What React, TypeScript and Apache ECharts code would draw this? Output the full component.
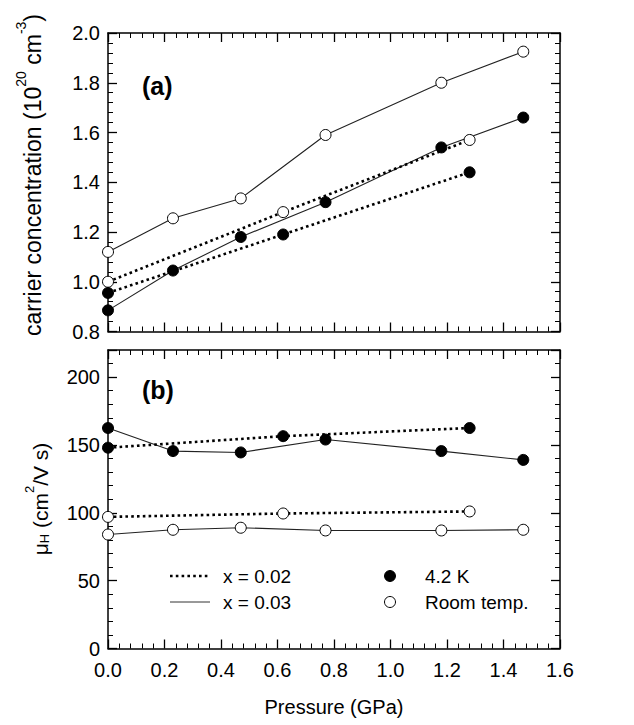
import React, { useEffect, useRef } from "react";
import * as echarts from "echarts";

// ---- data ----
const pressure03 = [0, 0.23, 0.47, 0.77, 1.18, 1.47];
const pressure02 = [0, 0.62, 1.28];

const carrierRT03 = [1.12, 1.255, 1.335, 1.59, 1.8, 1.925];
const carrier4K03 = [0.885, 1.045, 1.18, 1.32, 1.54, 1.66];
const carrierRT02 = [1.0, 1.28, 1.57];
const carrier4K02 = [0.955, 1.19, 1.44];

const mobility4K03 = [162.5, 145.5, 144.5, 154, 145.5, 139];
const mobilityRT03 = [84, 87.5, 89, 87, 87, 87.5];
const mobility4K02 = [148, 156.5, 162.5];
const mobilityRT02 = [97, 99.5, 101];

const legendLabels = ["x = 0.02", "x = 0.03", "4.2 K", "Room temp."];
const panelLabels = ["(a)", "(b)"];
const axisTitles = [
  "{a|carrier concentration (10}{sup|20}{a| cm}{sup|-3}{a|)}",
  "{a|μ}{sub|H}{a| (cm}{sup|2}{a|/V s)}",
  "Pressure (GPa)",
];

const FONT = "Liberation Sans, Arial, sans-serif";

function pairs(xs: number[], ys: number[]) {
  return xs.map((x, i) => [x, ys[i]]);
}

const fmt1 = (v: any) => {
  const n = Number(v);
  return isFinite(n) ? n.toFixed(1) : String(v);
};
const fmtInt50 = (v: any) => {
  const n = Number(v);
  return isFinite(n) && n % 50 === 0 ? String(n) : "";
};

export default function App() {
  const ref = useRef<HTMLDivElement>(null);

  useEffect(() => {
    document.body.style.margin = "0";
    if (!ref.current) return;
    const chart = echarts.init(ref.current, null, { renderer: "svg" });

    const frameLine = () => ({ show: true, onZero: false, lineStyle: { color: "#000", width: 1.5 } });
    const majorTick = () => ({ show: true, inside: true, length: 9, lineStyle: { color: "#000", width: 1.3 } });
    const minorTick = () => ({ show: true, splitNumber: 5, length: 5, lineStyle: { color: "#000", width: 1 } });

    // frame axes: line + ticks, no labels
    const xFrame = (gridIndex: number, position: string) => ({
      type: "value",
      gridIndex,
      position,
      min: 0,
      max: 1.6,
      interval: 0.2,
      axisLine: frameLine(),
      axisTick: majorTick(),
      minorTick: minorTick(),
      splitLine: { show: false },
      axisLabel: { show: false },
    });
    const yTopFrame = (position: string) => ({
      type: "value",
      gridIndex: 0,
      position,
      min: 0.8,
      max: 2.0,
      interval: 0.2,
      axisLine: frameLine(),
      axisTick: majorTick(),
      minorTick: minorTick(),
      splitLine: { show: false },
      axisLabel: { show: false },
    });
    const yBottomFrame = (position: string) => ({
      type: "value",
      gridIndex: 1,
      position,
      min: 0,
      max: 220,
      interval: 50,
      axisLine: frameLine(),
      axisTick: majorTick(),
      splitLine: { show: false },
      axisLabel: { show: false },
    });
    const yBottomMinor = (position: string) => ({
      type: "value",
      gridIndex: 1,
      position,
      min: 0,
      max: 220,
      interval: 10,
      axisLine: { show: false, onZero: false },
      axisTick: { show: true, inside: true, length: 5, lineStyle: { color: "#000", width: 1 } },
      splitLine: { show: false },
      axisLabel: { show: false },
    });

    // label-only axes on overlapping grids
    const labelStyle = { show: true, color: "#000", fontFamily: FONT, fontSize: 20 };
    const noLine = { show: false, onZero: false };

    const solid = { color: "#222", width: 1.1, type: "solid" };
    const dotted = { color: "#000", width: 2.6, type: [2.6, 3.2], cap: "butt" };
    const filled = { color: "#000", borderColor: "#000", borderWidth: 1 };
    const open = { color: "#fff", borderColor: "#000", borderWidth: 1 };

    const mk = (name: string, xi: number, yi: number, data: number[][], line: any, item: any) => ({
      name,
      type: "line",
      xAxisIndex: xi,
      yAxisIndex: yi,
      data,
      symbol: "circle",
      symbolSize: 11,
      showSymbol: true,
      lineStyle: line,
      itemStyle: item,
      emphasis: { disabled: true },
      silent: true,
      z: 3,
    });

    const titleRich = {
      a: { fill: "#000", fontFamily: FONT, fontSize: 23, lineHeight: 30, verticalAlign: "bottom" },
      sup: { fill: "#000", fontFamily: FONT, fontSize: 14, lineHeight: 30, verticalAlign: "top" },
      sub: { fill: "#000", fontFamily: FONT, fontSize: 14, lineHeight: 26, verticalAlign: "bottom" },
    };
    const titleRichSmall = {
      a: { fill: "#000", fontFamily: FONT, fontSize: 21, lineHeight: 28, verticalAlign: "bottom" },
      sup: { fill: "#000", fontFamily: FONT, fontSize: 13, lineHeight: 28, verticalAlign: "top" },
      sub: { fill: "#000", fontFamily: FONT, fontSize: 13, lineHeight: 24, verticalAlign: "bottom" },
    };

    const option: any = {
      animation: false,
      grid: [
        { left: 108, top: 33, width: 452, height: 298.5 },
        { left: 108, top: 350, width: 452, height: 298.5 },
        { left: 108, top: 33, width: 452, height: 298.5 },
        { left: 108, top: 350, width: 452, height: 298.5 },
      ],
      xAxis: [
        xFrame(0, "bottom"),
        xFrame(0, "top"),
        xFrame(1, "bottom"),
        xFrame(1, "top"),
        {
          type: "value",
          gridIndex: 3,
          position: "bottom",
          min: 0,
          max: 1.6,
          interval: 0.2,
          axisLine: noLine,
          axisTick: { show: false },
          splitLine: { show: false },
          axisLabel: { ...labelStyle, margin: 11, formatter: fmt1 },
        },
        {
          type: "value",
          gridIndex: 2,
          position: "bottom",
          min: 0,
          max: 1.6,
          show: false,
        },
      ],
      yAxis: [
        yTopFrame("left"),
        yTopFrame("right"),
        yBottomFrame("left"),
        yBottomFrame("right"),
        yBottomMinor("left"),
        yBottomMinor("right"),
        {
          type: "value",
          gridIndex: 2,
          position: "left",
          min: 0.8,
          max: 2.0,
          interval: 0.2,
          axisLine: noLine,
          axisTick: { show: false },
          splitLine: { show: false },
          axisLabel: { ...labelStyle, margin: 8, formatter: fmt1 },
        },
        {
          type: "value",
          gridIndex: 3,
          position: "left",
          min: 0,
          max: 220,
          interval: 50,
          axisLine: noLine,
          axisTick: { show: false },
          splitLine: { show: false },
          axisLabel: { ...labelStyle, margin: 8, formatter: fmtInt50 },
        },
      ],
      series: [
        mk("carrier RT x=0.03", 0, 0, pairs(pressure03, carrierRT03), solid, open),
        mk("carrier 4.2K x=0.03", 0, 0, pairs(pressure03, carrier4K03), solid, filled),
        mk("carrier RT x=0.02", 0, 0, pairs(pressure02, carrierRT02), dotted, open),
        mk("carrier 4.2K x=0.02", 0, 0, pairs(pressure02, carrier4K02), dotted, filled),
        mk("mobility 4.2K x=0.03", 2, 2, pairs(pressure03, mobility4K03), solid, filled),
        mk("mobility RT x=0.03", 2, 2, pairs(pressure03, mobilityRT03), solid, open),
        mk("mobility 4.2K x=0.02", 2, 2, pairs(pressure02, mobility4K02), dotted, filled),
        mk("mobility RT x=0.02", 2, 2, pairs(pressure02, mobilityRT02), dotted, open),
      ],
      graphic: [
        {
          type: "text",
          x: 29,
          y: 175,
          rotation: Math.PI / 2,
          style: { text: axisTitles[0], rich: titleRich, fill: "#000", align: "center", verticalAlign: "middle" },
        },
        {
          type: "text",
          x: 37,
          y: 499,
          rotation: Math.PI / 2,
          style: { text: axisTitles[1], rich: titleRichSmall, fill: "#000", align: "center", verticalAlign: "middle" },
        },
        {
          type: "text",
          x: 334,
          y: 707,
          style: { text: axisTitles[2], fill: "#000", font: `20px ${FONT}`, align: "center", verticalAlign: "middle" },
        },
        {
          type: "text",
          left: 142,
          top: 73,
          style: { text: panelLabels[0], fill: "#000", font: `bold 25px ${FONT}` },
        },
        {
          type: "text",
          left: 142,
          top: 377,
          style: { text: panelLabels[1], fill: "#000", font: `bold 25px ${FONT}` },
        },
        {
          type: "line",
          shape: { x1: 170, y1: 576, x2: 210, y2: 576 },
          style: { stroke: "#000", lineWidth: 2.6, lineDash: [2.6, 3.2] },
        },
        {
          type: "text",
          x: 223,
          y: 576,
          style: { text: legendLabels[0], fill: "#000", font: `19px ${FONT}`, verticalAlign: "middle" },
        },
        {
          type: "line",
          shape: { x1: 170, y1: 602, x2: 210, y2: 602 },
          style: { stroke: "#333", lineWidth: 1 },
        },
        {
          type: "text",
          x: 223,
          y: 602,
          style: { text: legendLabels[1], fill: "#000", font: `19px ${FONT}`, verticalAlign: "middle" },
        },
        {
          type: "circle",
          shape: { cx: 390, cy: 576, r: 5.5 },
          style: { fill: "#000", stroke: "#000", lineWidth: 1 },
        },
        {
          type: "text",
          x: 425,
          y: 576,
          style: { text: legendLabels[2], fill: "#000", font: `19px ${FONT}`, verticalAlign: "middle" },
        },
        {
          type: "circle",
          shape: { cx: 390, cy: 602, r: 5.5 },
          style: { fill: "#fff", stroke: "#000", lineWidth: 1 },
        },
        {
          type: "text",
          x: 425,
          y: 602,
          style: { text: legendLabels[3], fill: "#000", font: `19px ${FONT}`, verticalAlign: "middle" },
        },
      ],
    };

    chart.setOption(option);
    return () => chart.dispose();
  }, []);

  return <div ref={ref} style={{ width: 634, height: 725, background: "#fff" }} />;
}
